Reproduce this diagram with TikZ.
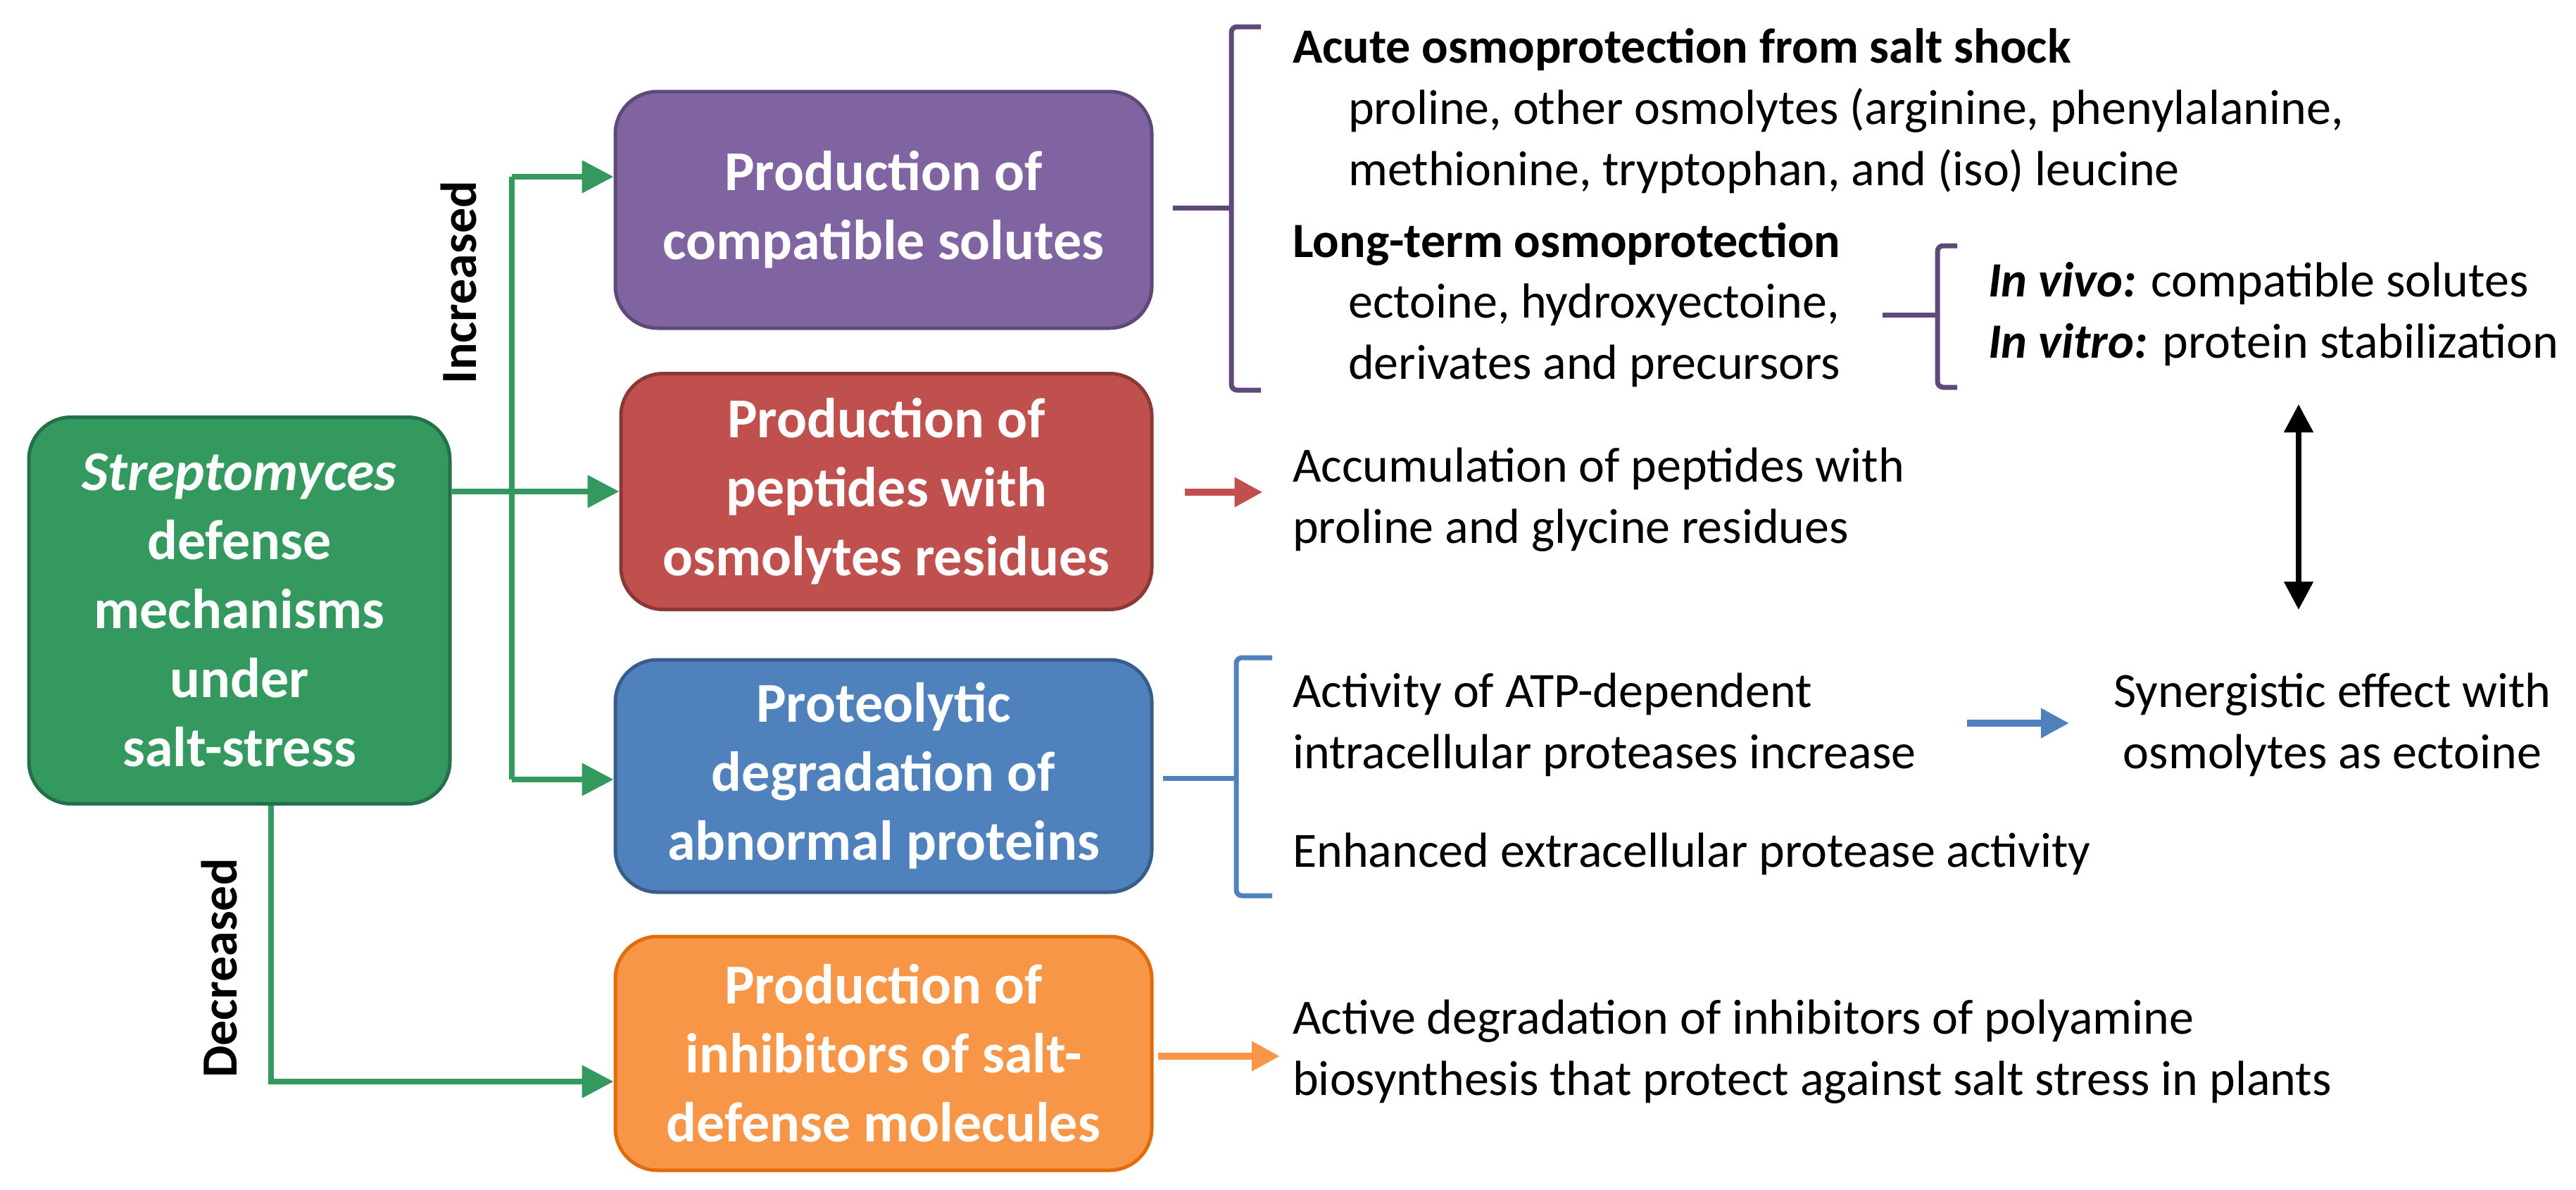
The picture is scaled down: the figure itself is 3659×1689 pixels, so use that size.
\documentclass[tikz,border=0pt]{standalone}
\usepackage{fontspec}
\setmainfont{Carlito}
\usetikzlibrary{arrows.meta}
\definecolor{cgreen}{HTML}{33995F}
\definecolor{cgreenD}{HTML}{23704A}
\definecolor{cpurple}{HTML}{8064A2}
\definecolor{cpurpleD}{HTML}{5F497A}
\definecolor{cred}{HTML}{C0504D}
\definecolor{credD}{HTML}{8C3836}
\definecolor{cblue}{HTML}{4F81BD}
\definecolor{cblueD}{HTML}{385D8A}
\definecolor{corange}{HTML}{F79646}
\definecolor{corangeD}{HTML}{E36C0A}
\begin{document}
\begin{tikzpicture}[x=1pt,y=-1pt,
  box/.style={rounded corners=60pt,line width=5pt,text=white,align=center,
     font=\fontsize{80}{98}\selectfont\bfseries,inner sep=0pt},
  txt/.style={anchor=west,align=left,font=\fontsize{70}{87}\selectfont,inner sep=0pt},
  garrow/.style={cgreen,line width=8pt,-{Triangle[length=45pt,width=45pt]}},
  carrow/.style={line width=10pt,-{Triangle[length=40pt,width=40pt]}},
  brace/.style={line width=7pt,rounded corners=8pt}]
\useasboundingbox (0,0) rectangle (3659,1689);
% boxes
\node[box,fill=cgreen,draw=cgreenD,minimum width=598pt,minimum height=549pt] (g) at (340,867)
 {\textit{Streptomyces}\\defense\\mechanisms\\under\\salt-stress};
\node[box,fill=cpurple,draw=cpurpleD,minimum width=762pt,minimum height=336pt] (p) at (1255,298)
 {Production of\\compatible solutes};
\node[box,fill=cred,draw=credD,minimum width=754pt,minimum height=335pt] (r) at (1259,698)
 {Production of\\peptides with\\osmolytes residues};
\node[box,fill=cblue,draw=cblueD,minimum width=762pt,minimum height=330pt] (b) at (1255,1102)
 {Proteolytic\\degradation of\\abnormal proteins};
\node[box,fill=corange,draw=corangeD,minimum width=762pt,minimum height=332pt] (o) at (1255,1496)
 {Production of\\inhibitors of salt-\\defense molecules};
% green connectors
\coordinate (v1) at (727,251);
\coordinate (v2) at (727,1107);
\draw[cgreen,line width=8pt] (v1) -- (v2);
\draw[garrow] (v1) -- (p.west|-v1);
\draw[garrow] (v2) -- (b.west|-v2);
\draw[garrow] (g.east|-r.west) -- (r.west);
\coordinate (d1) at (385,1536);
\draw[garrow] (g.south-|d1) -- (d1) -- (o.west|-d1);
\node[rotate=90,font=\fontsize{72}{80}\selectfont\bfseries] (inc) at (651,401) {Increased};
\node[rotate=90,font=\fontsize{72}{80}\selectfont\bfseries] (dec) at (311,1375) {Decreased};
% purple brace
\draw[brace,cpurpleD] (1791,38) -- (1749,38) -- (1749,554) -- (1791,554);
\draw[brace,cpurpleD,rounded corners=0pt] (1666,295) -- (1749,295);
\node[txt,font=\fontsize{70}{87}\selectfont\bfseries] (t1) at (1836,70) {Acute osmoprotection from salt shock};
\node[txt] (t2) at (1915,200) {proline, other osmolytes (arginine, phenylalanine,\\methionine, tryptophan, and (iso) leucine};
\node[txt,font=\fontsize{70}{87}\selectfont\bfseries] (t3) at (1836,347) {Long-term osmoprotection};
\node[txt] (t4) at (1915,476) {ectoine, hydroxyectoine,\\derivates and precursors};
% small brace
\draw[brace,cpurpleD] (2780,349) -- (2752,349) -- (2752,550) -- (2780,550);
\draw[brace,cpurpleD,rounded corners=0pt] (2674,447) -- (2752,447);
\node[txt] (t5) at (2824,446) {\textbf{\textit{In vivo:}} compatible solutes\\\textbf{\textit{In vitro:}} protein stabilization};
% double arrow
\coordinate (da1) at (3265,574);
\coordinate (da2) at (3265,866);
\draw[line width=8pt,{Triangle[length=40pt,width=40pt]}-{Triangle[length=40pt,width=40pt]}] (da1) -- (da2);
% red
\node[txt] (t6) at (1836,710) {Accumulation of peptides with\\proline and glycine residues};
\draw[carrow,cred] (r.east|-t6) ++(44,-11) coordinate (ra) -- ++(111,0);
% blue brace
\draw[brace,cblue] (1807,934) -- (1756,934) -- (1756,1272) -- (1807,1272);
\draw[brace,cblue,rounded corners=0pt] (1652,1105) -- (1756,1105);
\node[txt] (t7) at (1836,1029) {Activity of ATP-dependent\\intracellular proteases increase};
\node[txt] (t8) at (1836,1213) {Enhanced extracellular protease activity};
\node[align=center,font=\fontsize{70}{87}\selectfont,inner sep=0pt] (t9) at (3313,1029) {Synergistic effect with\\osmolytes as ectoine};
\draw[carrow,cblue] (2794,1027) -- (2939,1027);
% orange
\node[txt] (t10) at (1836,1494) {Active degradation of inhibitors of polyamine\\biosynthesis that protect against salt stress in plants};
\draw[carrow,corange] (1645,1500) -- (1818,1500);
\end{tikzpicture}
\end{document}
